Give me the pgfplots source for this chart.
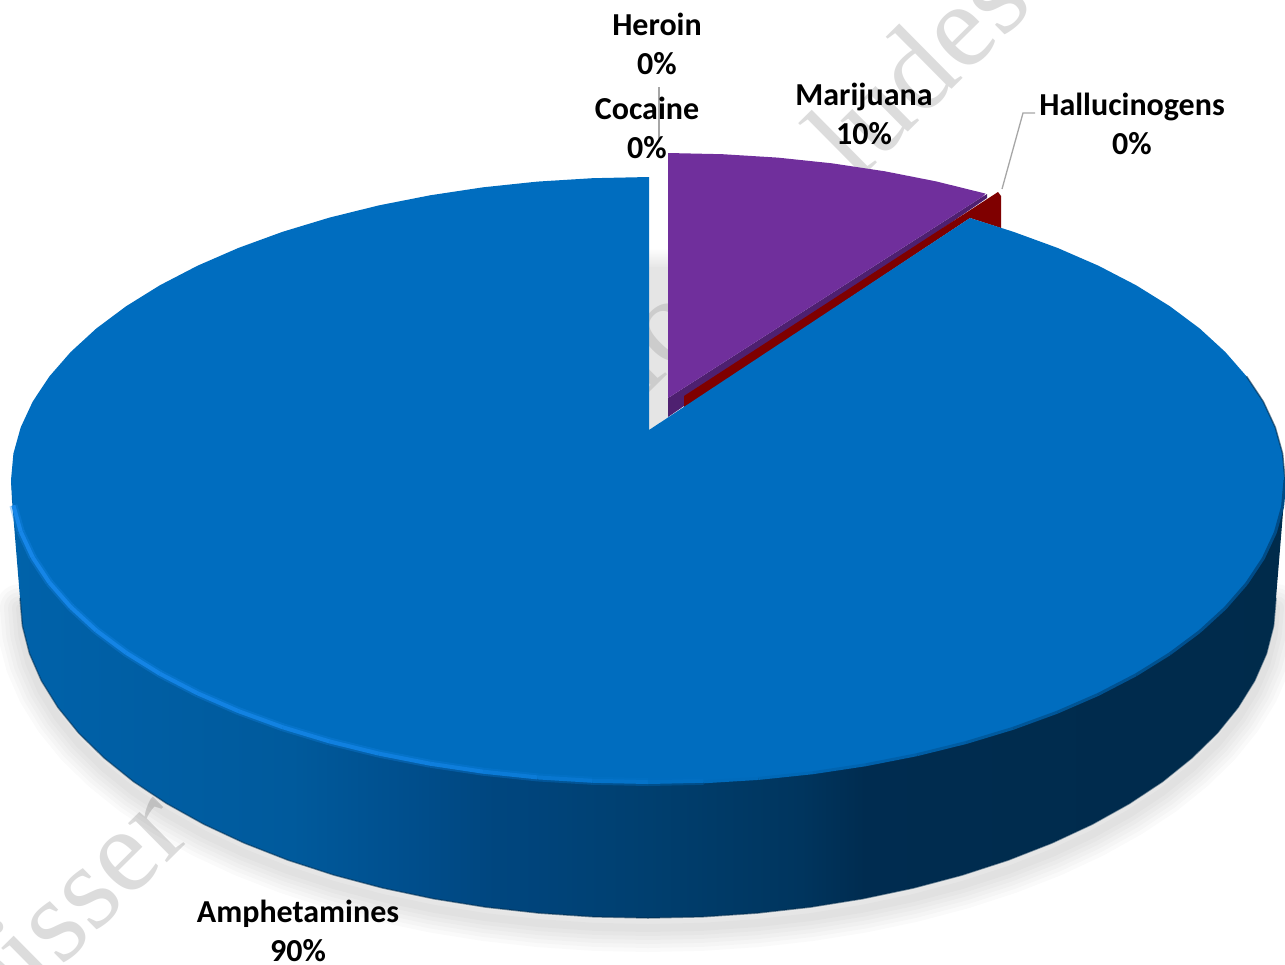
\documentclass[border=0pt]{standalone}
\usepackage{fontspec}
\usepackage{pgfplots}
\usepackage{pgfplotstable}
\pgfplotsset{compat=1.18}
\setmainfont{Carlito}
\newfontfamily\wmfont{Liberation Serif}

\definecolor{blueTop}{HTML}{006DBF}
\definecolor{purpleTop}{HTML}{702F9C}
\definecolor{purpleEdge}{HTML}{4E2070}
\definecolor{redWedge}{HTML}{7F0000}
\definecolor{leader}{HTML}{A6A6A6}
\definecolor{watermark}{HTML}{DCDCDC}
\definecolor{sideA}{HTML}{0062AA}
\definecolor{sideB}{HTML}{005A9C}
\definecolor{sideC}{HTML}{00508F}
\definecolor{sideD}{HTML}{00467F}
\definecolor{sideE}{HTML}{003F6F}
\definecolor{sideF}{HTML}{00355E}
\definecolor{sideG}{HTML}{002C50}
\definecolor{sideH}{HTML}{002B4B}
\definecolor{gapB}{HTML}{E5E5E5}

\pgfdeclarehorizontalshading{pieside}{100bp}{
  color(0bp)=(sideA);
  color(25bp)=(sideA);
  color(36bp)=(sideB);
  color(40bp)=(sideC);
  color(44bp)=(sideD);
  color(50bp)=(sideE);
  color(56bp)=(sideF);
  color(58.5bp)=(sideG);
  color(75bp)=(sideH);
  color(100bp)=(sideH)}

\pgfplotsset{
  colormap={rimmap}{rgb255=(22,134,232) rgb255=(18,130,226) rgb255=(14,126,220) rgb255=(0,109,191)},
  colormap={edgemap}{rgb255=(0,109,191) rgb255=(0,85,150) rgb255=(0,70,125)},
}

% lower outline of the side wall, right to left
\pgfplotstableread{
x y
1276 598
1273.6 625.9
1266.5 653.6
1254.6 680.8
1238.1 707.4
1217.2 733.2
1191.8 758
1162.5 781.6
1129.1 803.7
1092.1 824.3
1051.7 843.1
1008.2 860.1
962 875.1
913.4 888
862.8 898.7
810.5 907.1
757 913.1
702.7 916.8
648 918
593.3 916.8
539 913.1
485.5 907.1
433.2 898.7
382.6 888
334 875.1
287.8 860.1
244.3 843.1
203.9 824.3
166.9 803.7
133.5 781.6
104.2 758
78.8 733.2
57.9 707.4
41.4 680.8
29.5 653.6
22.4 625.9
20 598
}\sideedge

% amphetamines slice, from the centre round the top face
\pgfplotstableread{
x y
649 430
649 177
592.5 178.2
537.4 181.6
483.1 187.3
430.1 195.3
378.8 205.4
329.5 217.6
282.6 231.8
238.5 247.9
197.6 265.7
160 285.2
126.2 306.2
96.3 328.5
70.7 352
49.4 376.4
32.7 401.6
20.7 427.4
13.4 453.6
11 480
13.4 506.4
20.7 532.6
32.7 558.4
49.4 583.6
70.7 608
96.3 631.5
126.2 653.8
160 674.8
197.6 694.3
238.5 712.1
282.6 728.2
329.5 742.4
378.8 754.6
430.1 764.7
483.1 772.7
537.4 778.4
592.5 781.8
648 783
703.5 781.8
758.6 778.4
812.9 772.7
865.9 764.7
917.2 754.6
966.5 742.4
1013.4 728.2
1057.5 712.1
1098.4 694.3
1136 674.8
1169.8 653.8
1199.7 631.5
1225.3 608
1246.6 583.6
1263.3 558.4
1275.3 532.6
1282.6 506.4
1285 480
1282.6 453.6
1275.3 427.4
1263.3 401.6
1246.6 376.4
1225.3 352
1199.7 328.5
1169.8 306.2
1136 285.2
1098.4 265.7
1057.5 247.9
1013.4 231.8
970 218
}\topface

% bright rim, front left
\pgfplotstableread{
x y
13.4 506.4
20.7 532.6
32.7 558.4
49.4 583.6
70.7 608
96.3 631.5
126.2 653.8
160 674.8
197.6 694.3
238.5 712.1
282.6 728.2
329.5 742.4
378.8 754.6
430.1 764.7
483.1 772.7
537.4 778.4
592.5 781.8
648 783
703.5 781.8
}\rimleft

% dark soft edge, front right
\pgfplotstableread{
x y
703.5 781.8
758.6 778.4
812.9 772.7
865.9 764.7
917.2 754.6
966.5 742.4
1013.4 728.2
1057.5 712.1
1098.4 694.3
1136 674.8
1169.8 653.8
1199.7 631.5
1225.3 608
1246.6 583.6
1263.3 558.4
1275.3 532.6
1282.6 506.4
1285 480
}\rimright

\begin{document}
\begin{tikzpicture}[x=1pt,y=1pt]
\path[use as bounding box] (0,0) rectangle (1285,964);
% watermark behind everything, only these letters show past the pie
\node[rotate=44.7,text=watermark,inner sep=0pt,anchor=base east] at (194,128)
  {\wmfont\fontsize{120}{120}\selectfont Disser};
\node[rotate=44.7,text=watermark,inner sep=0pt,anchor=base west] at (855,779)
  {\wmfont\fontsize{120}{120}\selectfont ludes};
\begin{axis}[
  at={(0,0)},anchor=south west,
  width=1285pt,height=964pt,
  scale only axis,
  xmin=0,xmax=1285,
  ymin=0,ymax=964,
  y dir=reverse,
  hide axis,
  point meta min=11,point meta max=700,
]
% soft shadow under the pie
\pgfplotsinvokeforeach{48,40,32,24,16,8}{
  \addplot[draw=black,draw opacity=0.02,line width=#1pt,yshift=-10pt,line join=round,line cap=round]
    table {\sideedge};
}
% gap left by the exploded slices
\addplot[draw=none,shade,top color=white,bottom color=gapB] coordinates {
  (649,248) (668,248) (668,268) (649,268)};
\addplot[fill=gapB,draw=none] coordinates {
  (649,267.5) (668,267.5) (668,417) (649,430)};
\node[rotate=44.7,text=black!20,inner sep=0pt,anchor=base] at (axis cs:679,364)
  {\wmfont\fontsize{120}{120}\selectfont io};
% side wall
\addplot[draw=none,shade,shading=pieside] coordinates {
  (11,480) (1285,480) (1284,500) (1276,598)
  (1273.6,625.9) (1266.5,653.6) (1254.6,680.8) (1238.1,707.4) (1217.2,733.2)
  (1191.8,758) (1162.5,781.6) (1129.1,803.7) (1092.1,824.3) (1051.7,843.1)
  (1008.2,860.1) (962,875.1) (913.4,888) (862.8,898.7) (810.5,907.1)
  (757,913.1) (702.7,916.8) (648,918) (593.3,916.8) (539,913.1)
  (485.5,907.1) (433.2,898.7) (382.6,888) (334,875.1) (287.8,860.1)
  (244.3,843.1) (203.9,824.3) (166.9,803.7) (133.5,781.6) (104.2,758)
  (78.8,733.2) (57.9,707.4) (41.4,680.8) (29.5,653.6) (22.4,625.9)
  (20,598) (12,500)};
\addplot[draw=sideH,draw opacity=0.5,line width=1.5pt,line join=round] table {\sideedge};
% marijuana edge
\addplot[fill=purpleEdge,draw=none] coordinates {
  (668,398) (982,197) (987,194) (987,198) (668,417)};
% hallucinogens wedge
\addplot[fill=redWedge,draw=none] coordinates {
  (684,396) (998,192) (1001,196) (1001,228) (970,218) (684,408)};
% marijuana face
\addplot[fill=purpleTop,draw=none] coordinates {
  (668,153) (722.5,154.2) (777.6,157.6) (831.9,163.3) (884.9,171.3)
  (936.2,181.4) (985.5,193.6) (982,197) (668,398)};
% amphetamines face
\addplot[fill=blueTop,draw=none] table {\topface};
\addplot[mesh,colormap name=edgemap,point meta=\thisrow{x}-700,line width=3pt] table {\rimright};
\addplot[draw=sideH,draw opacity=0.6,line width=1.5pt,line join=round] coordinates {
  (1285,480) (1282.6,453.6) (1275.3,427.4) (1263.3,401.6) (1246.6,376.4)};
\addplot[mesh,colormap name=rimmap,point meta=x,line width=8pt,yshift=1pt,opacity=0.35] table {\rimleft};
\addplot[mesh,colormap name=rimmap,point meta=x,line width=4pt,yshift=1pt] table {\rimleft};
% leader lines
\addplot[leader,line width=1.3pt] coordinates {(659,87) (659,142)};
\addplot[leader,line width=1.3pt] coordinates {(1035,113) (1023,113) (1002,189)};
% data labels
\node[font=\bfseries\fontsize{32}{39}\selectfont,align=center,inner sep=0pt] at (axis cs:657,43.5) {Heroin\\0\%};
\node[font=\bfseries\fontsize{32}{39}\selectfont,align=center,inner sep=0pt] at (axis cs:647,127.5) {Cocaine\\0\%};
\node[font=\bfseries\fontsize{32}{39}\selectfont,align=center,inner sep=0pt] at (axis cs:864,114) {Marijuana\\10\%};
\node[font=\bfseries\fontsize{32}{39}\selectfont,align=center,inner sep=0pt] at (axis cs:1132,124) {Hallucinogens\\0\%};
\node[font=\bfseries\fontsize{32}{39}\selectfont,align=center,inner sep=0pt] at (axis cs:298,931) {Amphetamines\\90\%};
\end{axis}
\end{tikzpicture}
\end{document}
